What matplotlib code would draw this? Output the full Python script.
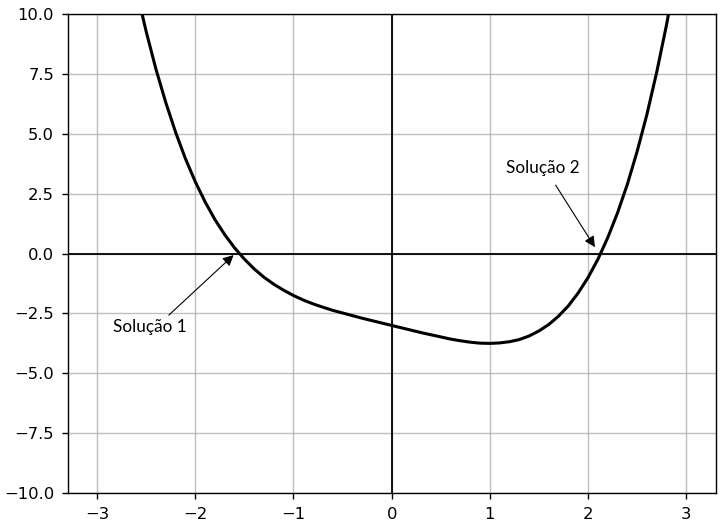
import matplotlib
matplotlib.use('Agg')
from matplotlib import pyplot as plt

# pontos (curva)
x = [-2.6, -2.5, -2.4, -2.3, -2.2, -2.1, -2.0, -1.9, -1.8, -1.7, -1.6, -1.5,
     -1.4, -1.3, -1.2, -1.1, -1.0, -0.9, -0.8, -0.7, -0.6, -0.5, -0.4, -0.3,
     -0.2, -0.1, 0.0, 0.1, 0.2, 0.3, 0.4, 0.5, 0.6, 0.7, 0.8, 0.9, 1.0, 1.1,
     1.2, 1.3, 1.4, 1.5, 1.6, 1.7, 1.8, 1.9, 2.0, 2.1, 2.2, 2.3, 2.4, 2.5,
     2.6, 2.7, 2.8, 2.9]
y = [11.02, 9.27, 7.69, 6.30, 5.06, 3.96, 3.00, 2.16, 1.42, 0.79, 0.24, -0.23,
     -0.64, -0.99, -1.28, -1.53, -1.75, -1.94, -2.10, -2.24, -2.37, -2.48, -2.59, -2.70,
     -2.80, -2.90, -3.00, -3.10, -3.20, -3.30, -3.39, -3.48, -3.57, -3.64, -3.70, -3.74, -3.75, -3.73,
     -3.68, -3.59, -3.44, -3.23, -2.96, -2.61, -2.18, -1.64, -1.00, -0.24, 0.66, 1.70, 2.89, 4.27,
     5.82, 7.59, 9.57, 11.78]

# anotações: texto, posição do texto, ponta da seta, cauda da seta
labels = ['Solução 1', 'Solução 2']
label_xy = [(-2.46, -3.07), (1.54, 3.57)]
arrow_head = [(-1.61, -0.06), (2.07, 0.27)]
arrow_tail = [(-2.27, -2.57), (1.67, 2.86)]

fig = plt.figure(figsize=(7.2, 5.27), dpi=100)
ax = fig.add_axes([0.094, 0.0645, 0.9, 0.9085])

ax.grid(True, color='#b0b0b0', linewidth=1.0, alpha=0.8)
ax.axhline(0, color='k', linewidth=1.3)
ax.axvline(0, color='k', linewidth=1.3)
ax.plot(x, y, color='k', linewidth=2.2)

for lab, pos, head, tail in zip(labels, label_xy, arrow_head, arrow_tail):
    ax.text(pos[0], pos[1], lab, ha='center', va='center',
            fontsize=12.3, family=['Lato', 'DejaVu Sans'])
    ax.annotate('', xy=head, xytext=tail,
                arrowprops=dict(arrowstyle='-|>', color='k', lw=0.8,
                                mutation_scale=16, shrinkA=0, shrinkB=0))

ax.set_xlim(-3.3, 3.3)
ax.set_ylim(-10, 10)
ax.tick_params(labelsize=11.8, length=4.3, width=1.0, pad=5.5)
for s in ax.spines.values():
    s.set_linewidth(1.0)

fig.savefig('out.png', dpi=100)
